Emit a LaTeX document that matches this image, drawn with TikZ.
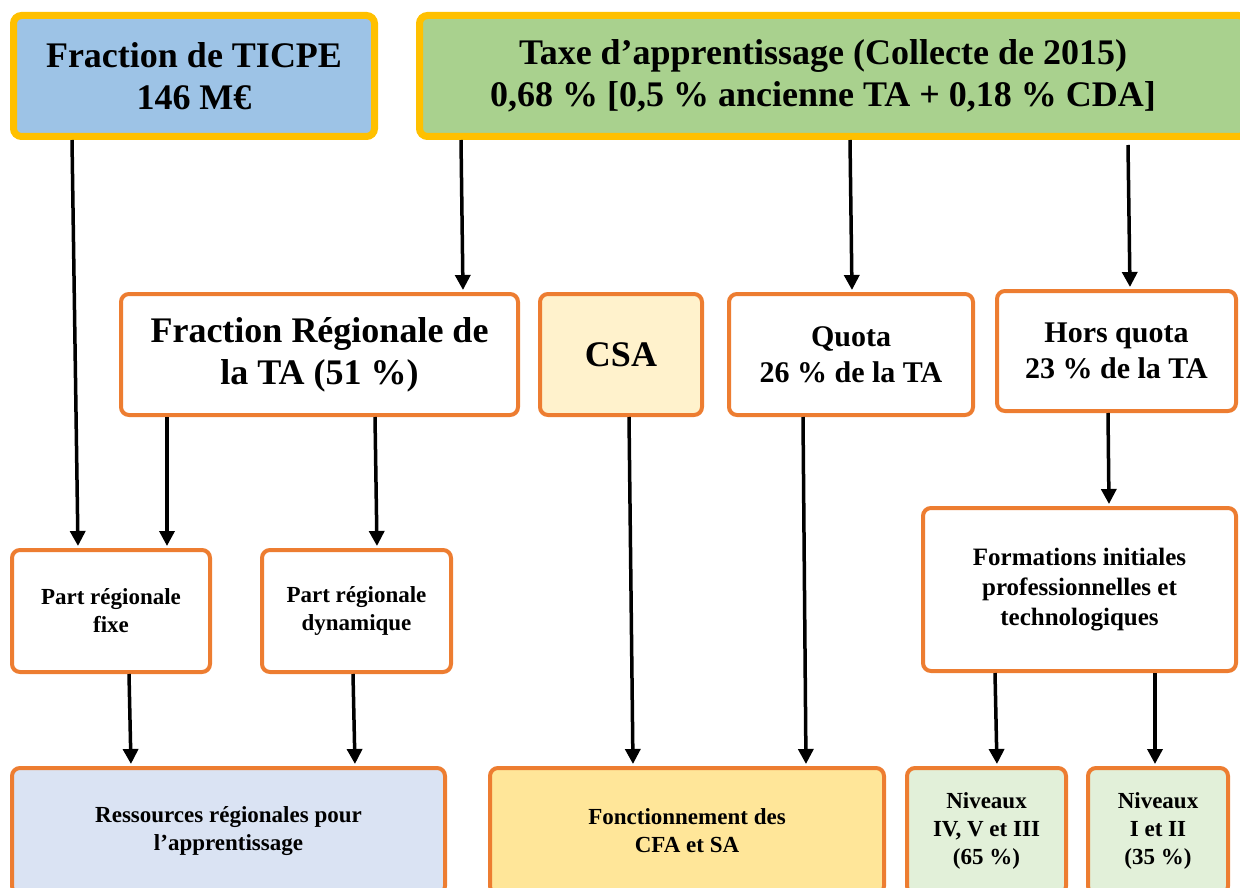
\documentclass[tikz,border=0pt]{standalone}
\usepackage{fontspec}
\setmainfont{Liberation Serif}
\usetikzlibrary{arrows.meta}
\definecolor{myyellow}{RGB}{255,192,0}
\definecolor{myorange}{RGB}{237,125,49}
\definecolor{myblue}{RGB}{157,195,230}
\definecolor{mygreen}{RGB}{169,209,142}
\definecolor{mycream}{RGB}{255,242,204}
\definecolor{mypaleblue}{RGB}{218,227,243}
\definecolor{mygold}{RGB}{255,230,153}
\definecolor{mypalegreen}{RGB}{226,240,217}
\newcommand{\sizebig}{\fontsize{36}{42}\selectfont}
\newcommand{\sizemid}{\fontsize{30}{36}\selectfont}
\newcommand{\sizeform}{\fontsize{25}{30}\selectfont}
\newcommand{\sizesmall}{\fontsize{23}{28}\selectfont}
\tikzset{
    common/.style={rectangle, rounded corners=8pt, align=center, inner sep=0pt},
    source/.style={common, draw=myyellow, line width=7pt, font=\bfseries\sizebig},
    box/.style={common, draw=myorange, line width=4pt, fill=white},
    bigbox/.style={box, font=\bfseries\sizebig},
    midbox/.style={box, font=\bfseries\sizemid},
    smallbox/.style={box, font=\bfseries\sizesmall},
    link/.style={-{Triangle[length=15pt,width=15pt]}, line width=3.5pt, shorten >=2pt}
}

\begin{document}
\begin{tikzpicture}[x=1pt, y=-1pt]
    \path[use as bounding box, clip] (0,0) rectangle (1240,888);

    % sources
    \node[source, fill=myblue, minimum width=361pt, minimum height=121pt] (ticpe) at (194,76)
        {Fraction de TICPE\\146 M€};
    \node[source, fill=mygreen, minimum width=827pt, minimum height=121pt] (ta) at (833,76)
        {\hspace*{-20pt}Taxe d’apprentissage (Collecte de 2015)\\\hspace*{-20pt}0,68 \% [0,5 \% ancienne TA + 0,18 \% CDA]};

    % repartition
    \node[bigbox, minimum width=397pt, minimum height=121pt] (fracreg) at (319.5,354.5)
        {Fraction Régionale de\\la TA (51 \%)};
    \node[bigbox, fill=mycream, minimum width=162pt, minimum height=121pt] (csa) at (621,354.5) {CSA};
    \node[midbox, minimum width=244pt, minimum height=121pt] (quota) at (851,354.5)
        {Quota\\26 \% de la TA};
    \node[midbox, minimum width=239pt, minimum height=120pt] (hors) at (1116.5,351)
        {Hors quota\\23 \% de la TA};

    \node[smallbox, minimum width=198pt, minimum height=122pt] (fixe) at (111,611)
        {Part régionale\\fixe};
    \node[smallbox, minimum width=189pt, minimum height=122pt] (dyn) at (356.5,611)
        {Part régionale\\dynamique};
    \node[box, font=\bfseries\sizeform, minimum width=313pt, minimum height=163pt] (form) at (1079.5,589.5)
        {Formations initiales\\professionnelles et\\technologiques};

    % destinations
    \node[smallbox, fill=mypaleblue, minimum width=433pt, minimum height=126pt] (res) at (228.5,831)
        {Ressources régionales pour\\l’apprentissage};
    \node[smallbox, fill=mygold, minimum width=394pt, minimum height=126pt] (fonc) at (687,831)
        {Fonctionnement des\\CFA et SA};
    \node[smallbox, fill=mypalegreen, minimum width=159pt, minimum height=126pt] (niv1) at (986.5,831)
        {Niveaux\\IV, V et III\\(65 \%)};
    \node[smallbox, fill=mypalegreen, minimum width=140pt, minimum height=126pt] (niv2) at (1158,831)
        {Niveaux\\I et II\\(35 \%)};

    \draw[link] ([xshift=-122pt]ticpe.south) -- ([xshift=-33pt]fixe.north);
    \draw[link] ([xshift=-372pt]ta.south) -- ([xshift=143.5pt]fracreg.north);
    \draw[link] ([xshift=17pt]ta.south) -- ([xshift=1pt]quota.north);
    \draw[link] ([xshift=295pt,yshift=-5pt]ta.south) -- ([xshift=13.5pt]hors.north);
    \draw[link] ([xshift=-152.5pt]fracreg.south) -- ([xshift=56pt]fixe.north);
    \draw[link] ([xshift=55.5pt]fracreg.south) -- ([xshift=20.5pt]dyn.north);
    \draw[link] ([xshift=-8.5pt]hors.south) -- ([xshift=29.5pt]form.north);
    \draw[link] ([xshift=18pt]fixe.south) -- ([xshift=-97.5pt]res.north);
    \draw[link] ([xshift=-3.5pt]dyn.south) -- ([xshift=126.5pt]res.north);
    \draw[link] ([xshift=8pt]csa.south) -- ([xshift=-54pt]fonc.north);
    \draw[link] ([xshift=-48pt]quota.south) -- ([xshift=119pt]fonc.north);
    \draw[link] ([xshift=-84.5pt]form.south) -- ([xshift=10.5pt]niv1.north);
    \draw[link] ([xshift=75.5pt]form.south) -- ([xshift=-3pt]niv2.north);
\end{tikzpicture}
\end{document}
